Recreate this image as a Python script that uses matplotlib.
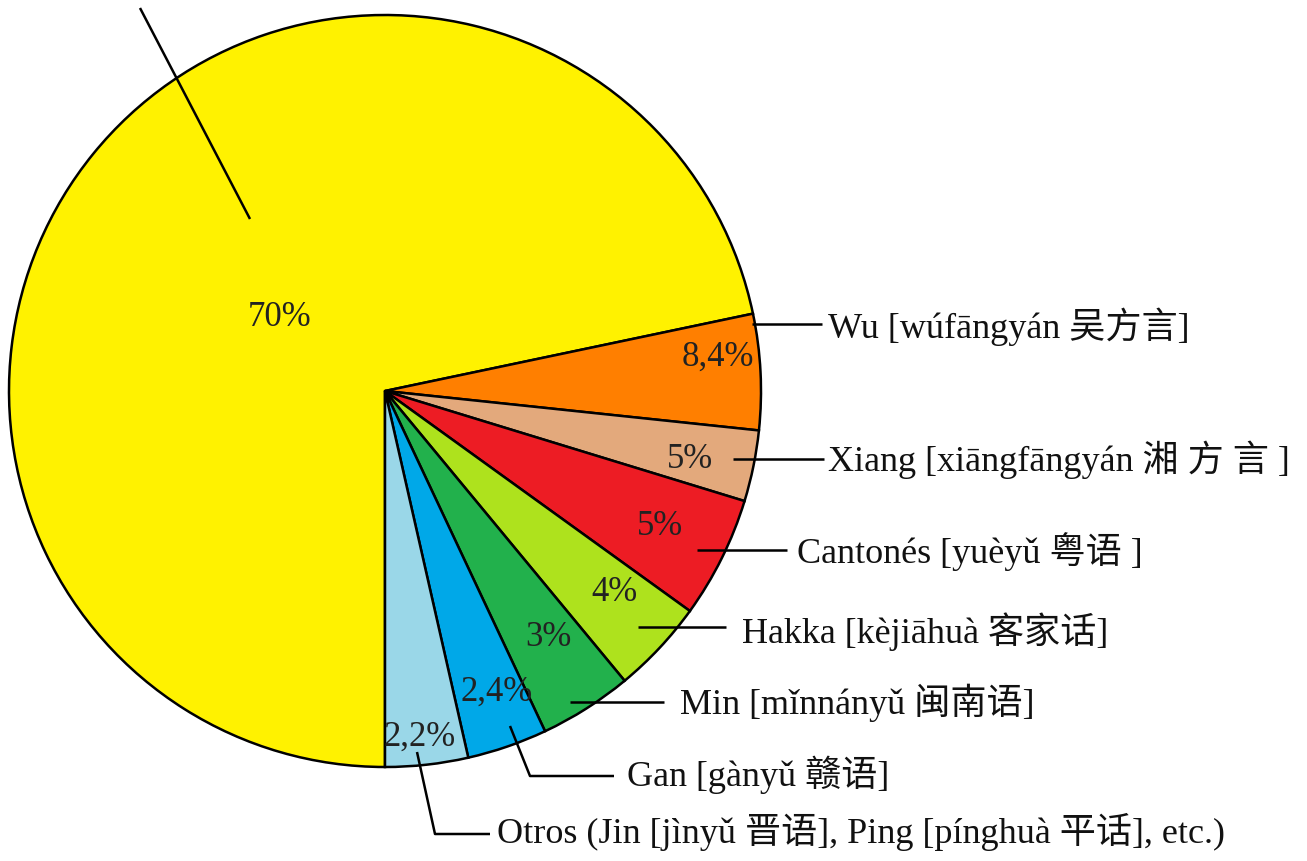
import matplotlib.pyplot as plt

# drawn wedge sizes (degrees, as measured on the picture) and their printed labels
dialects = ["Mandarín", "Wu", "Xiang", "Cantonés", "Hakka", "Min", "Gan", "Otros"]
drawn_share = [258.2, 17.9, 11.0, 18.8, 14.6, 14.4, 12.4, 12.8]
pct_labels = ["70%", "8,4%", "5%", "5%", "4%", "3%", "2,4%", "2,2%"]
names = [
    "",
    "Wu [wúfāngyán 吴方言]",
    "Xiang [xiāngfāngyán 湘 方 言 ]",
    "Cantonés [yuèyǔ 粤语 ]",
    "Hakka [kèjiāhuà 客家话]",
    "Min [mǐnnányǔ 闽南语]",
    "Gan [gànyǔ 赣语]",
    "Otros (Jin [jìnyǔ 晋语], Ping [pínghuà 平话], etc.)",
]
colors = ["#FFF200", "#FF7F00", "#E3A97C", "#ED1C24", "#AEE21D", "#22B14C", "#00A8E8", "#9AD7E8"]

FONT = ["Liberation Serif", "Noto Sans CJK SC", "DejaVu Sans"]

W, H = 1307, 862
fig = plt.figure(figsize=(W / 100, H / 100), dpi=100)
ax = fig.add_axes([0, 0, 1, 1])

cx, cy, r = 385, 392, 376
ax.pie(drawn_share, colors=colors, startangle=90, counterclock=True,
       center=(cx, cy), radius=r,
       wedgeprops=dict(edgecolor="black", linewidth=1.8))
ax.set_xlim(0, W)
ax.set_ylim(H, 0)
ax.set_aspect("equal")
ax.axis("off")

# percentage labels inside the wedges (pixel positions)
pct_pos = [(280, 318), (718, 357), (690, 460), (660, 527), (615, 593),
           (548, 638), (497, 692), (420, 737)]
for (x, y), t in zip(pct_pos, pct_labels):
    ax.text(x, y, t, ha="center", va="center", fontsize=25,
            family=FONT, color="#222222")

# leader lines: list of path points, then text position
leaders = [
    ([(140, 9), (250, 220)], None),
    ([(752, 325), (822, 325)], (828, 327)),
    ([(733, 460), (824, 460)], (828, 460)),
    ([(697, 551), (787, 551)], (797, 552)),
    ([(638, 628), (726, 628)], (742, 632)),
    ([(570, 703), (664, 703)], (680, 703)),
    ([(510, 727), (530, 777), (614, 777)], (627, 775)),
    ([(417, 753), (435, 835), (490, 835)], (497, 832)),
]
for (pts, tpos), name in zip(leaders, names):
    xs = [p[0] for p in pts]
    ys = [p[1] for p in pts]
    ax.plot(xs, ys, color="black", linewidth=1.8, solid_capstyle="butt")
    if tpos is not None:
        ax.text(tpos[0], tpos[1], name, ha="left", va="center",
                fontsize=26, family=FONT, color="#111111")

fig.savefig("out.png", dpi=100)
